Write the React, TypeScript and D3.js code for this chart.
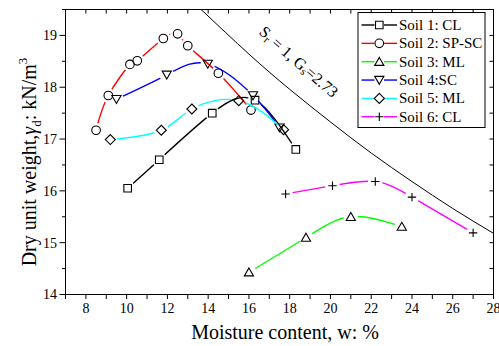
import React from 'react';
import * as d3 from 'd3';

const W = 499;
const H = 346;

// soil compaction curves, w (%) vs dry unit weight (kN/m3)
const soilNames = ['Soil 1: CL', 'Soil 2: SP-SC', 'Soil 3: ML', 'Soil 4:SC', 'Soil 5: ML', 'Soil 6: CL'];
const soilColors = ['#000000', '#ff0000', '#00ff00', '#0000ff', '#00ffff', '#ff00ff'];
const soilMarkers = ['square', 'circle', 'triangle', 'down', 'diamond', 'plus'];

const soil1W = [10.05, 11.6, 14.2, 16.3, 18.3];
const soil1G = [16.05, 16.6, 17.5, 17.75, 16.8];
const soil2W = [8.5, 9.1, 10.16, 10.52, 11.8, 12.5, 13.0, 14.5, 16.1];
const soil2G = [17.17, 17.84, 18.44, 18.51, 18.94, 19.03, 18.8, 18.27, 17.56];
const soil3W = [16.0, 18.8, 21.0, 23.5];
const soil3G = [14.43, 15.1, 15.5, 15.31];
const soil4W = [9.5, 11.97, 13.98, 16.2, 17.5];
const soil4G = [17.77, 18.24, 18.45, 17.84, 17.22];
const soil5W = [9.2, 11.7, 13.2, 15.5, 17.7];
const soil5G = [16.99, 17.17, 17.58, 17.74, 17.18];
const soil6W = [17.8, 20.1, 22.2, 24.0, 27.0];
const soil6G = [15.94, 16.1, 16.18, 15.88, 15.19];

// zero air voids line, Sr = 1, Gs = 2.73
const zavW = [13.6, 16, 18, 20, 22, 24, 26, 28];
const zavG = [19.52, 18.64, 17.96, 17.33, 16.73, 16.18, 15.66, 15.18];

const xTicks = [8, 10, 12, 14, 16, 18, 20, 22, 24, 26, 28];
const yTicks = [14, 15, 16, 17, 18, 19];

const soilW = [soil1W, soil2W, soil3W, soil4W, soil5W, soil6W];
const soilG = [soil1G, soil2G, soil3G, soil4G, soil5G, soil6G];

const font = '"Liberation Serif", "Times New Roman", serif';

function markerPath(kind: string) {
  switch (kind) {
    case 'square':
      return 'M-3.8,-3.8h7.6v7.6h-7.6Z';
    case 'triangle':
      return 'M0,-4.3L4.6,3.7L-4.6,3.7Z';
    case 'down':
      return 'M0,4.3L4.6,-3.7L-4.6,-3.7Z';
    case 'diamond':
      return 'M0,-5L5,0L0,5L-5,0Z';
    case 'plus':
      return 'M-4.2,0H4.2M0,-4.2V4.2';
    default:
      return '';
  }
}

function Marker({ kind, x, y }: { kind: string; x: number; y: number }) {
  if (kind === 'circle') {
    return <circle cx={x} cy={y} r={4.3} fill="none" stroke="#000" strokeWidth={1.1} />;
  }
  return (
    <path
      d={markerPath(kind)}
      transform={`translate(${x},${y})`}
      fill="none"
      stroke="#000"
      strokeWidth={1.1}
    />
  );
}

export default function App() {
  const left = 65.5;
  const right = 493.5;
  const top = 9.5;
  const bottom = 294.5;

  const x = d3.scaleLinear().domain([7, 28]).range([left, right]);
  const y = d3.scaleLinear().domain([14, 19.5]).range([bottom, top]);

  const line = d3
    .line<[number, number]>()
    .curve(d3.curveNatural)
    .x((d) => x(d[0]))
    .y((d) => y(d[1]));

  const zav = zavW.map((w, i) => [w, zavG[i]] as [number, number]);

  const xMinor = d3.range(7, 29, 1);
  const yMinor = d3.range(14, 19.51, 0.5);

  const legX = 358;
  const legTop = 12.5;
  const rowH = 18.35;

  return (
    <svg
      width={W}
      height={H}
      style={{ position: 'absolute', left: 0, top: 0, background: '#fff' }}
      fontFamily={font}
    >
      <defs>
        <clipPath id="plot">
          <rect x={left} y={top} width={right - left} height={bottom - top} />
        </clipPath>
        {soilW.map((ws, i) => (
          <mask id={`gap${i}`} key={i} maskUnits="userSpaceOnUse" x={0} y={0} width={W} height={H}>
            <rect x={0} y={0} width={W} height={H} fill="#fff" />
            {ws.map((w, j) => (
              <circle key={j} cx={x(w)} cy={y(soilG[i][j])} r={7.3} fill="#000" />
            ))}
          </mask>
        ))}
      </defs>

      {/* saturation line */}
      <path d={line(zav) || ''} fill="none" stroke="#000" strokeWidth={1} clipPath="url(#plot)" />
      <text
        transform="translate(299,61.5) rotate(41)"
        textAnchor="middle"
        dominantBaseline="central"
        fontSize={16}
        fill="#000"
      >
        S<tspan dy={4} fontSize={11}>r</tspan>
        <tspan dy={-4}> = 1, G</tspan>
        <tspan dy={4} fontSize={11}>s</tspan>
        <tspan dy={-4}>=2.73</tspan>
      </text>

      {/* series */}
      {soilW.map((ws, i) => {
        const pts = ws.map((w, j) => [w, soilG[i][j]] as [number, number]);
        return (
          <g key={i}>
            <path
              d={line(pts) || ''}
              fill="none"
              stroke={soilColors[i]}
              strokeWidth={1.4}
              mask={`url(#gap${i})`}
            />
            {pts.map((p, j) => (
              <Marker key={j} kind={soilMarkers[i]} x={x(p[0])} y={y(p[1])} />
            ))}
          </g>
        );
      })}

      {/* frame */}
      <rect x={left} y={top} width={right - left} height={bottom - top} fill="none" stroke="#000" strokeWidth={1} />

      {/* x axis ticks */}
      {xMinor.map((v) => (
        <g key={`x${v}`}>
          <line x1={x(v)} x2={x(v)} y1={bottom} y2={bottom + 4.5} stroke="#000" />
          <line x1={x(v)} x2={x(v)} y1={top} y2={top + 4} stroke="#000" />
        </g>
      ))}
      {xTicks.map((v) => (
        <text key={`xl${v}`} x={x(v)} y={312.5} textAnchor="middle" fontSize={14} fill="#000">
          {v}
        </text>
      ))}

      {/* y axis ticks */}
      {yMinor.map((v) => {
        const major = Math.abs(v - Math.round(v)) < 1e-6;
        return (
          <g key={`y${v}`}>
            <line x1={left - (major ? 6 : 3.5)} x2={left} y1={y(v)} y2={y(v)} stroke="#000" />
            <line x1={right - 4} x2={right} y1={y(v)} y2={y(v)} stroke="#000" />
          </g>
        );
      })}
      {yTicks.map((v) => (
        <text key={`yl${v}`} x={57} y={y(v)} dy="0.35em" textAnchor="end" fontSize={14} fill="#000">
          {v}
        </text>
      ))}

      {/* axis titles */}
      <text x={285} y={339} textAnchor="middle" fontSize={20} fill="#000">
        Moisture content, w: %
      </text>
      <text transform="translate(36,162) rotate(-90)" textAnchor="middle" fontSize={20} fill="#000">
        Dry unit weight,<tspan fontStyle="italic">γ</tspan>
        <tspan dy={5} fontSize={13}>d</tspan>
        <tspan dy={-5}>: kN/m</tspan>
        <tspan dy={-9} fontSize={13}>3</tspan>
      </text>

      {/* legend */}
      <rect x={legX} y={legTop} width={127} height={115} fill="#fff" stroke="#000" strokeWidth={1} />
      {soilNames.map((name, i) => {
        const cy = legTop + 12.5 + i * rowH;
        return (
          <g key={name}>
            <line x1={361.5} x2={374.5} y1={cy} y2={cy} stroke={soilColors[i]} strokeWidth={1.4} />
            <line x1={384} x2={397} y1={cy} y2={cy} stroke={soilColors[i]} strokeWidth={1.4} />
            <Marker kind={soilMarkers[i]} x={379.3} y={cy} />
            <text x={399} y={cy + 5} fontSize={15} fill="#000">
              {name}
            </text>
          </g>
        );
      })}
    </svg>
  );
}
